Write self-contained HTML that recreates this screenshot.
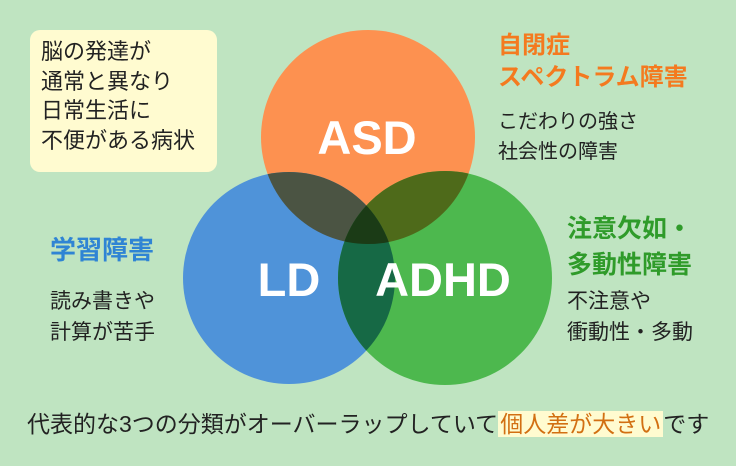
<!DOCTYPE html>
<html><head><meta charset="utf-8"><style>
body{margin:0;width:736px;height:466px;background:#bfe4c1;position:relative;overflow:hidden;font-family:"Liberation Sans","Noto Sans CJK JP",sans-serif}
.t{position:absolute;white-space:nowrap}
svg{position:absolute;left:0;top:0}
</style></head><body>
<svg width="736" height="466">
<defs>
<clipPath id="a"><circle cx="368" cy="137" r="107"/></clipPath>
<clipPath id="l"><circle cx="289" cy="278" r="106"/></clipPath>
<clipPath id="h"><circle cx="445" cy="278" r="107"/></clipPath>
</defs>
<circle cx="368" cy="137" r="107" fill="#fd9150"/>
<circle cx="289" cy="278" r="106" fill="#4f93d9"/>
<circle cx="445" cy="278" r="107" fill="#4db84e"/>
<g clip-path="url(#a)"><circle cx="289" cy="278" r="106" fill="#4b5443"/><circle cx="445" cy="278" r="107" fill="#4e6a1a"/></g>
<g clip-path="url(#l)"><circle cx="445" cy="278" r="107" fill="#166945"/></g>
<g clip-path="url(#a)"><g clip-path="url(#l)"><circle cx="445" cy="278" r="107" fill="#1b3b16"/></g></g>
<text x="367" y="154" font-size="47" font-weight="bold" fill="#fff" text-anchor="middle" font-family="Liberation Sans,sans-serif">ASD</text>
<text x="289" y="296" font-size="47" font-weight="bold" fill="#fff" text-anchor="middle" font-family="Liberation Sans,sans-serif">LD</text>
<text x="443" y="296" font-size="47" font-weight="bold" fill="#fff" text-anchor="middle" font-family="Liberation Sans,sans-serif">ADHD</text>
</svg>
<div class="t" style="left:30px;top:30px;width:187px;height:142px;background:#fffbd0;border-radius:10px"></div>
<div class="t" style="left:41px;top:37px;font-size:22px;line-height:29.5px;color:#222">脳の発達が<br>通常と異なり<br>日常生活に<br>不便がある病状</div>
<div class="t" style="left:498px;top:30px;font-size:24px;line-height:32px;color:#f47a1f;font-weight:bold">自閉症<br>スペクトラム障害</div>
<div class="t" style="left:498px;top:107px;font-size:20px;line-height:30px;color:#222">こだわりの強さ<br>社会性の障害</div>
<div class="t" style="left:50px;top:230px;font-size:26px;color:#2f84d4;font-weight:bold">学習障害</div>
<div class="t" style="left:50px;top:286px;font-size:21px;line-height:31px;color:#222">読み書きや<br>計算が苦手</div>
<div class="t" style="left:567px;top:211px;font-size:25px;line-height:36px;color:#2f9b2a;font-weight:bold">注意欠如・<br>多動性障害</div>
<div class="t" style="left:567px;top:286px;font-size:21px;line-height:31px;color:#222">不注意や<br>衝動性・多動</div>
<div class="t" style="left:27px;top:408px;font-size:23px;line-height:32px;color:#222">代表的な3つの分類がオーバーラップしていて<span style="background:#fffbd0;color:#d26f12;padding:0 2px">個人差が大きい</span>です</div>
</body></html>
